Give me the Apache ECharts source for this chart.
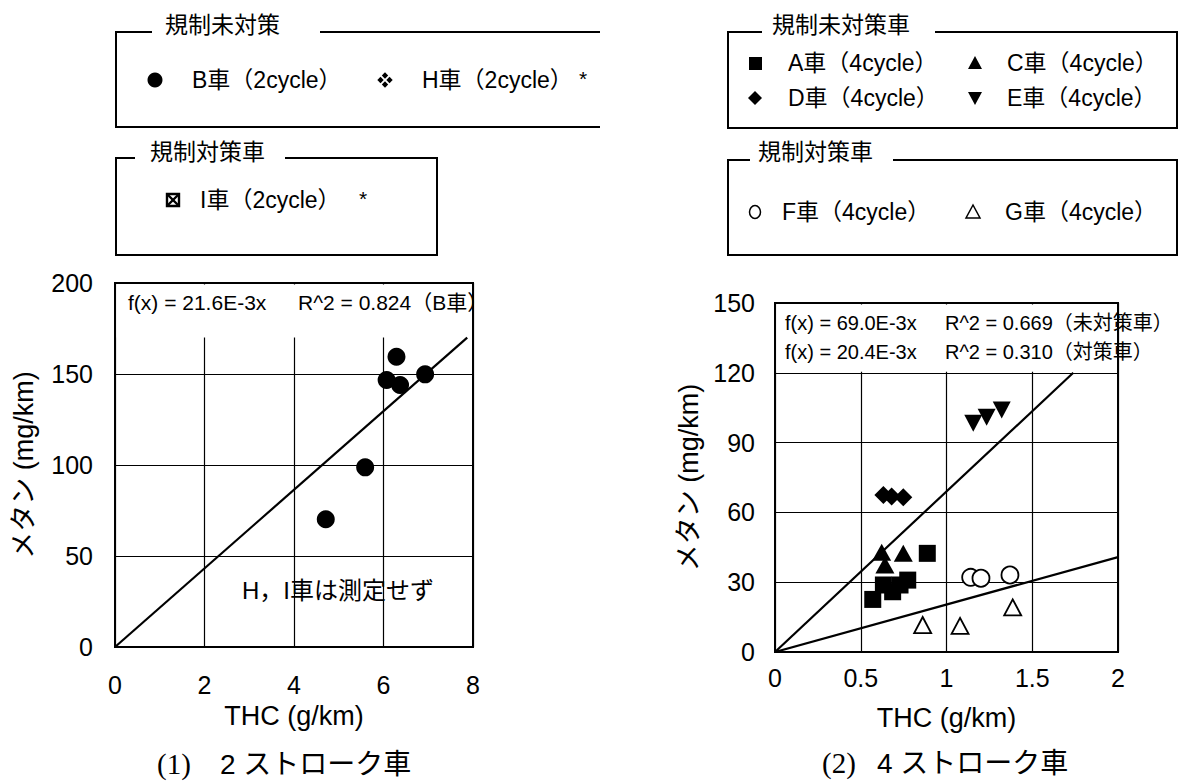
<!DOCTYPE html>
<html>
<head>
<meta charset="utf-8">
<script src="https://cdn.jsdelivr.net/npm/echarts@6/dist/echarts.min.js"></script>
<style>
html,body{margin:0;padding:0;background:#fff;}
#c{width:1178px;height:782px;}
</style>
</head>
<body>
<div id="c"></div>
<script>
// ---------------- DATA ----------------
// Panel (1): 2-stroke
const xTicks1 = [0, 2, 4, 6, 8];
const yTicks1 = [0, 50, 100, 150, 200];
const carB_x = [4.71, 5.59, 6.07, 6.29, 6.37, 6.93];
const carB_y = [70.2, 98.7, 146.7, 159.5, 144.0, 149.8];
const slopeB = 21.6;           // f(x) = 21.6E-3x  (mg/km per g/km)
const fitTopY1 = 170;          // fit line stops under the formula box

// Panel (2): 4-stroke
const xTicks2 = [0, 0.5, 1, 1.5, 2];
const yTicks2 = [0, 30, 60, 90, 120, 150];
const carA_x = [0.570, 0.632, 0.686, 0.729, 0.774, 0.888];
const carA_y = [22.6, 28.8, 25.9, 28.8, 30.9, 42.4];
const carC_x = [0.622, 0.641, 0.748];
const carC_y = [42.9, 37.4, 42.4];
const carD_x = [0.632, 0.680, 0.748];
const carD_y = [67.5, 66.8, 66.5];
const carE_x = [1.156, 1.234, 1.322];
const carE_y = [98.3, 100.9, 104.0];
const carF_x = [1.141, 1.201, 1.370];
const carF_y = [32.1, 31.7, 33.1];
const carG_x = [0.861, 1.079, 1.386];
const carG_y = [11.6, 11.2, 19.2];
const slopeUncontrolled = 69.0; // f(x) = 69.0E-3x
const slopeControlled = 20.4;   // f(x) = 20.4E-3x
const fitTopY2 = 120;

// Texts
const xName = 'THC (g/km)';
const yName = 'メタン (mg/km)';
const legendLeftTitles = ['規制未対策', '規制対策車'];
const legendLeftLabels = ['B車（2cycle）', 'H車（2cycle）', 'I車（2cycle）'];
const legendRightTitles = ['規制未対策車', '規制対策車'];
const legendRightLabels = ['A車（4cycle）', 'C車（4cycle）', 'D車（4cycle）', 'E車（4cycle）', 'F車（4cycle）', 'G車（4cycle）'];
const fitText1 = ['f(x) = 21.6E-3x', 'R^2 = 0.824（B車）'];
const fitText2a = ['f(x) = 69.0E-3x', 'R^2 = 0.669（未対策車）'];
const fitText2b = ['f(x) = 20.4E-3x', 'R^2 = 0.310（対策車）'];
const noteText1 = 'H，I車は測定せず';
const captions = [['(1)', '2 ストローク車'], ['(2)', '4 ストローク車']];

// ---------------- CHART ----------------
const FONT = "'Liberation Sans','Noto Sans CJK JP',sans-serif";
const SERIF = "'Liberation Serif','DejaVu Serif',serif";
const zip = (xs, ys) => xs.map((x, i) => [x, ys[i]]);

const chart = echarts.init(document.getElementById('c'), null, {renderer: 'svg'});

function xAxisCfg(gi, ticks, labelMargin, nameGap) {
  return {
    gridIndex: gi, type: 'value',
    min: ticks[0], max: ticks[ticks.length - 1], interval: ticks[1] - ticks[0],
    axisLine: {show: true, lineStyle: {color: '#000', width: 2}},
    axisTick: {show: false},
    splitLine: {show: true, lineStyle: {color: '#000', width: 1.2}},
    axisLabel: {color: '#000', fontSize: 25, fontFamily: FONT, margin: labelMargin},
    name: xName, nameLocation: 'middle', nameGap: nameGap,
    nameTextStyle: {color: '#000', fontSize: 27, fontFamily: FONT}
  };
}
function yAxisCfg(gi, ticks, labelMargin, nameGap) {
  return {
    gridIndex: gi, type: 'value',
    min: ticks[0], max: ticks[ticks.length - 1], interval: ticks[1] - ticks[0],
    axisLine: {show: true, lineStyle: {color: '#000', width: 2}},
    axisTick: {show: false},
    splitLine: {show: true, lineStyle: {color: '#000', width: 1.2}},
    axisLabel: {color: '#000', fontSize: 25, fontFamily: FONT, margin: labelMargin},
    name: yName, nameLocation: 'middle', nameGap: nameGap,
    nameTextStyle: {color: '#000', fontSize: 27, fontFamily: FONT}
  };
}
function fitLine(gi, slope, xMax, yCap) {
  const xEnd = Math.min(xMax, yCap / slope);
  return {
    type: 'line', xAxisIndex: gi, yAxisIndex: gi, silent: true,
    showSymbol: false, symbol: 'none', z: 2,
    lineStyle: {color: '#000', width: 2.2},
    data: [[0, 0], [xEnd, slope * xEnd]]
  };
}
function scatter(gi, name, xs, ys, symbol, size, opts) {
  return Object.assign({
    type: 'scatter', name: name, xAxisIndex: gi, yAxisIndex: gi, z: 3,
    symbol: symbol, symbolSize: size,
    itemStyle: {color: '#000', opacity: 1},
    data: zip(xs, ys)
  }, opts || {});
}
const openStyle = {color: '#fff', borderColor: '#000', borderWidth: 1.8, opacity: 1};

const option = {
  animation: false,
  backgroundColor: '#fff',
  textStyle: {fontFamily: FONT},
  grid: [
    {left: 115, top: 283, width: 358, height: 364, show: true, borderColor: '#000', borderWidth: 2, backgroundColor: 'transparent', containLabel: false},
    {left: 775, top: 303, width: 343, height: 349, show: true, borderColor: '#000', borderWidth: 2, backgroundColor: 'transparent', containLabel: false}
  ],
  xAxis: [xAxisCfg(0, xTicks1, 25, 55), xAxisCfg(1, xTicks2, 13, 52)],
  yAxis: [yAxisCfg(0, yTicks1, 22, 78), yAxisCfg(1, yTicks2, 20, 73)],
  series: [
    fitLine(0, slopeB, xTicks1[xTicks1.length - 1], fitTopY1),
    scatter(0, legendLeftLabels[0], carB_x, carB_y, 'circle', 18),
    fitLine(1, slopeUncontrolled, xTicks2[xTicks2.length - 1], fitTopY2),
    fitLine(1, slopeControlled, xTicks2[xTicks2.length - 1], fitTopY2),
    scatter(1, legendRightLabels[0], carA_x, carA_y, 'rect', 17),
    scatter(1, legendRightLabels[1], carC_x, carC_y, 'triangle', [19, 17]),
    scatter(1, legendRightLabels[2], carD_x, carD_y, 'diamond', [18, 18]),
    scatter(1, legendRightLabels[3], carE_x, carE_y, 'triangle', [18, 17], {symbolRotate: 180}),
    scatter(1, legendRightLabels[4], carF_x, carF_y, 'circle', 17, {itemStyle: openStyle}),
    scatter(1, legendRightLabels[5], carG_x, carG_y, 'triangle', [17, 16], {itemStyle: openStyle})
  ]
};
chart.setOption(option);

// ---------------- GRAPHICS (legend boxes, annotations, captions) ----------------
const px = (gi, pt) => chart.convertToPixel({gridIndex: gi}, pt);
const g = [];
function txt(x, y, text, size, family) {
  g.push({
    type: 'text', x: x, y: y, z: 10,
    style: {text: text, fill: '#000', font: size + 'px ' + (family || FONT), align: 'left', verticalAlign: 'middle'}
  });
}
function poly(points, lw) {
  g.push({type: 'polyline', z: 10, shape: {points: points}, style: {stroke: '#000', lineWidth: lw || 2, fill: null}});
}
function polygon(points, filled) {
  g.push({type: 'polygon', z: 10, shape: {points: points},
    style: filled ? {fill: '#000'} : {fill: '#fff', stroke: '#000', lineWidth: 1.5}});
}

// Cover the top of each plot (formula box)
const a0 = px(0, [xTicks1[0], yTicks1[yTicks1.length - 1]]);
const a1 = px(0, [xTicks1[xTicks1.length - 1], fitTopY1]);
g.push({type: 'rect', z: 1, silent: true,
  shape: {x: a0[0] + 1.5, y: a0[1] + 1.5, width: a1[0] - a0[0] - 3, height: a1[1] - a0[1] - 1.5},
  style: {fill: '#fff'}});
const b0 = px(1, [xTicks2[0], yTicks2[yTicks2.length - 1]]);
const b1 = px(1, [xTicks2[xTicks2.length - 1], fitTopY2]);
g.push({type: 'rect', z: 1, silent: true,
  shape: {x: b0[0] + 1.5, y: b0[1] + 1.5, width: b1[0] - b0[0] - 3, height: b1[1] - b0[1] - 2.5},
  style: {fill: '#fff'}});

// Annotations inside plots
txt(128, 302, fitText1[0], 21);
txt(298, 302, fitText1[1], 21);
txt(785, 323, fitText2a[0], 20);
txt(945, 323, fitText2a[1], 20);
txt(785, 352, fitText2b[0], 20);
txt(945, 352, fitText2b[1], 20);
txt(242, 590, noteText1, 24);

// Left legend boxes
poly([[152, 32], [116, 32], [116, 127], [600, 127]]);
poly([[320, 32], [600, 32]]);
txt(165, 25, legendLeftTitles[0], 23);
g.push({type: 'circle', z: 10, shape: {cx: 155, cy: 80, r: 7.5}, style: {fill: '#000'}});
txt(192, 80, legendLeftLabels[0], 23);
// ❖ marker
[[0, -4.5], [-4.5, 0], [4.5, 0], [0, 4.5]].forEach(d => {
  const cx = 385 + d[0], cy = 80 + d[1], h = 3.2;
  polygon([[cx, cy - h], [cx + h, cy], [cx, cy + h], [cx - h, cy]], true);
});
txt(422, 80, legendLeftLabels[1], 23);
txt(579, 78, '*', 21);

poly([[135, 158], [116, 158], [116, 255], [437, 255], [437, 158], [285, 158]]);
txt(150, 152, legendLeftTitles[1], 23);
// ⊠ marker
g.push({type: 'rect', z: 10, shape: {x: 167, y: 194, width: 12, height: 12}, style: {fill: '#fff', stroke: '#000', lineWidth: 2.4}});
poly([[167, 194], [179, 206]], 2.4);
poly([[179, 194], [167, 206]], 2.4);
txt(200, 200, legendLeftLabels[2], 23);
txt(359, 198, '*', 21);

// Right legend boxes
poly([[762, 32], [728, 32], [728, 128], [1177, 128], [1177, 32], [935, 32]]);
txt(772, 25, legendRightTitles[0], 23);
g.push({type: 'rect', z: 10, shape: {x: 749, y: 57, width: 13, height: 13}, style: {fill: '#000'}});
txt(788, 63, legendRightLabels[0], 23);
polygon([[975, 56], [968, 69], [982, 69]], true);
txt(1007, 63, legendRightLabels[1], 23);
polygon([[755, 91], [762, 98], [755, 105], [748, 98]], true);
txt(788, 98, legendRightLabels[2], 23);
polygon([[968, 92], [982, 92], [975, 105]], true);
txt(1007, 98, legendRightLabels[3], 23);

poly([[750, 160], [728, 160], [728, 255], [1177, 255], [1177, 160], [893, 160]]);
txt(758, 152, legendRightTitles[1], 23);
g.push({type: 'ellipse', z: 10, shape: {cx: 755, cy: 212, rx: 5.5, ry: 6.5}, style: {fill: '#fff', stroke: '#000', lineWidth: 1.5}});
txt(782, 212, legendRightLabels[4], 23);
polygon([[973, 205], [966, 218], [980, 218]], false);
txt(1005, 212, legendRightLabels[5], 23);

// Captions
txt(157, 764, captions[0][0], 29, SERIF);
txt(220, 764, captions[0][1], 28);
txt(822, 763, captions[1][0], 29, SERIF);
txt(877, 763, captions[1][1], 28);

chart.setOption({graphic: {elements: g}});
</script>
</body>
</html>
